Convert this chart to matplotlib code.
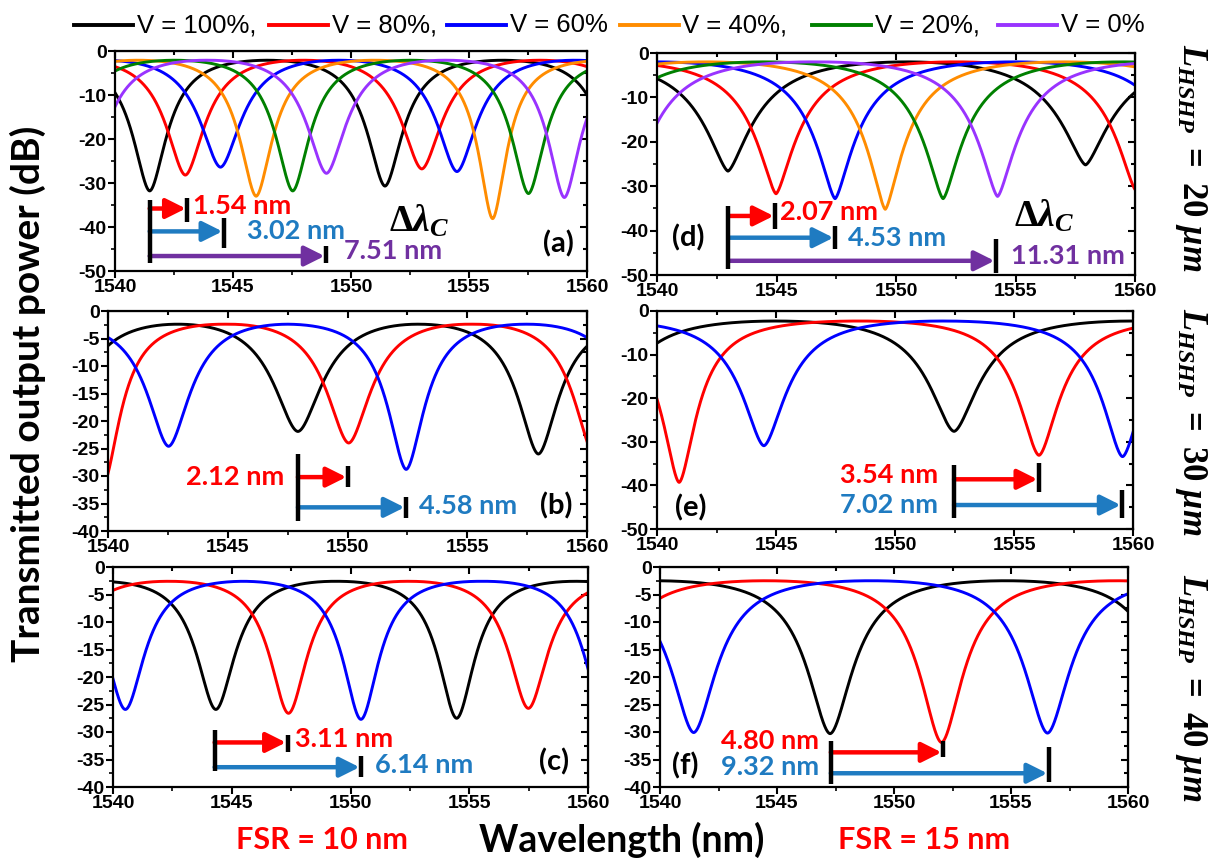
import numpy as np
import matplotlib
matplotlib.use("Agg")
import matplotlib.pyplot as plt
from matplotlib.lines import Line2D
from matplotlib.ticker import MultipleLocator

# ---------------- data ----------------
WL_MIN, WL_MAX = 1540, 1560
series_labels = ["V = 100%,", "V = 80%,", "V = 60%", "V = 40%,", "V = 20%,", "V = 0%"]
series_colors = ["#000000", "#FF0000", "#0000FF", "#FF8C00", "#008000", "#9933FF"]

# resonance dips: (wavelength nm, minimum dB)
a_black = [(1531.45, -31.0), (1541.47, -31.8), (1551.44, -30.7), (1561.42, -30.5)]
a_red = [(1532.98, -28.0), (1542.98, -28.2), (1553.00, -26.8), (1563.00, -27.0)]
a_blue = [(1534.47, -27.0), (1544.47, -26.4), (1554.49, -27.4), (1564.50, -27.0)]
a_orange = [(1535.98, -33.0), (1545.98, -33.0), (1556.00, -38.1), (1566.00, -35.0)]
a_green = [(1537.53, -32.0), (1547.53, -31.8), (1557.52, -32.4), (1567.50, -32.0)]
a_purple = [(1538.85, -28.0), (1548.96, -27.8), (1559.04, -33.3), (1569.00, -30.0)]

b_black = [(1537.90, -22.0), (1547.93, -21.9), (1557.97, -26.0), (1568.00, -24.0)]
b_red = [(1529.80, -30.0), (1539.80, -31.5), (1550.05, -24.0), (1560.30, -26.0)]
b_blue = [(1532.50, -25.0), (1542.53, -24.6), (1552.45, -28.8), (1562.50, -26.0)]

c_black = [(1534.30, -26.0), (1544.33, -25.9), (1554.47, -27.5), (1564.50, -26.0)]
c_red = [(1537.30, -26.0), (1547.39, -26.6), (1557.49, -25.7), (1567.50, -26.0)]
c_blue = [(1530.50, -26.0), (1540.52, -25.9), (1550.44, -27.7), (1560.65, -26.5)]

d_black = [(1528.00, -26.0), (1542.97, -26.6), (1557.93, -25.2), (1572.90, -26.0)]
d_red = [(1530.00, -31.0), (1544.98, -31.7), (1560.05, -31.0)]
d_blue = [(1532.45, -32.0), (1547.45, -32.8), (1562.45, -32.0)]
d_orange = [(1534.55, -35.0), (1549.55, -35.2), (1564.55, -35.0)]
d_green = [(1537.00, -33.0), (1551.97, -32.8), (1567.00, -33.0)]
d_purple = [(1538.90, -29.0), (1554.25, -32.3), (1569.30, -32.0)]

e_black = [(1537.50, -27.0), (1552.48, -27.6), (1567.50, -27.0)]
e_red = [(1525.90, -33.0), (1540.93, -39.3), (1556.05, -33.1), (1571.10, -33.0)]
e_blue = [(1529.50, -31.0), (1544.49, -30.9), (1559.56, -33.4), (1574.60, -33.0)]

f_black = [(1532.30, -30.0), (1547.27, -30.3), (1562.30, -30.0)]
f_red = [(1537.00, -32.0), (1552.03, -31.9), (1567.00, -32.0)]
f_blue = [(1526.50, -30.0), (1541.44, -30.1), (1556.56, -30.2), (1571.60, -30.0)]

panel_names = ["(a)", "(b)", "(c)", "(d)", "(e)", "(f)"]
panel_fsr = [10, 10, 10, 15, 15, 15]
panel_peak = [-2.1, -2.4, -2.6, -2.0, -2.3, -2.5]
panel_k = [28.0, 26.5, 24.0, 36.0, 35.5, 35.0]
panel_p = [1.8, 1.8, 1.9, 1.5, 1.7, 1.8]
panel_ymin = [-50, -40, -40, -50, -50, -40]
panel_ystep = [10, 5, 5, 10, 10, 5]

shift_a = ["1.54 nm", "3.02 nm", "7.51 nm"]
shift_b = ["2.12 nm", "4.58 nm"]
shift_c = ["3.11 nm", "6.14 nm"]
shift_d = ["2.07 nm", "4.53 nm", "11.31 nm"]
shift_e = ["3.54 nm", "7.02 nm"]
shift_f = ["4.80 nm", "9.32 nm"]
length_labels = ["20", "30", "40"]
fsr_labels = ["FSR = 10 nm", "FSR = 15 nm"]

# ---------------- styling ----------------
plt.rcParams["font.family"] = ["Liberation Sans", "DejaVu Sans"]
plt.rcParams["font.weight"] = "bold"
plt.rcParams["axes.unicode_minus"] = False
plt.rcParams["mathtext.fontset"] = "custom"
plt.rcParams["mathtext.rm"] = "Liberation Serif:bold"
plt.rcParams["mathtext.it"] = "Liberation Serif:italic:bold"
plt.rcParams["mathtext.bf"] = "Liberation Serif:bold"

ANN = ["Lato", "DejaVu Sans"]
C_RED = "#FF0000"
C_BLUE = "#1F7BC1"
C_PURP = "#7030A0"

W, H = 1212, 860
fig = plt.figure(figsize=(W / 100, H / 100), dpi=100)


def rect(l, t, r, b):
    return [l / W, 1 - b / H, (r - l) / W, (b - t) / H]


boxes = [(115, 51, 587, 271), (108, 311, 587, 531), (113, 567, 588, 787),
         (657, 53, 1135, 275), (657, 311, 1133, 529), (660, 567, 1128, 787)]


def spectrum(wl, dips, peak, fsr, k, p):
    y = np.full(wl.shape, float(peak))
    s_half = fsr / np.pi
    for centre, bottom in dips:
        depth = peak - bottom
        w = k / depth
        d = wl - centre
        inside = np.abs(d) <= fsr / 2
        de = s_half * np.abs(np.sin(np.pi * d / fsr))
        core = 1.0 / (1.0 + (de / w) ** p)
        edge = 1.0 / (1.0 + (s_half / w) ** p)
        shape = (core - edge) / (1 - edge)
        y = np.where(inside, y - depth * shape, y)
    return y


panel_series = [
    [a_black, a_red, a_blue, a_orange, a_green, a_purple],
    [b_black, b_red, b_blue],
    [c_black, c_red, c_blue],
    [d_black, d_red, d_blue, d_orange, d_green, d_purple],
    [e_black, e_red, e_blue],
    [f_black, f_red, f_blue],
]

wl = np.linspace(WL_MIN, WL_MAX, 4001)
axes = []
for i in range(6):
    ax = fig.add_axes(rect(*boxes[i]))
    axes.append(ax)
    for j, dips in enumerate(panel_series[i]):
        y = spectrum(wl, dips, panel_peak[i], panel_fsr[i], panel_k[i], panel_p[i])
        ax.plot(wl, y, color=series_colors[j], lw=2.1, zorder=2)
    ax.set_xlim(WL_MIN, WL_MAX)
    ax.set_ylim(panel_ymin[i], 0)
    ax.xaxis.set_major_locator(MultipleLocator(5))
    ax.xaxis.set_minor_locator(MultipleLocator(2.5))
    ax.yaxis.set_major_locator(MultipleLocator(panel_ystep[i]))
    ax.yaxis.set_minor_locator(MultipleLocator(panel_ystep[i] / 2))
    ax.tick_params(which="major", direction="out", length=5, width=1.5, labelsize=14, pad=1)
    ax.tick_params(which="minor", direction="out", length=3, width=1.2)
    for lab in ax.get_xticklabels() + ax.get_yticklabels():
        lab.set_fontweight("bold")
    for sp in ax.spines.values():
        sp.set_linewidth(1.6)
    sx = ax.secondary_xaxis("top")
    sx.xaxis.set_major_locator(MultipleLocator(5))
    sx.xaxis.set_minor_locator(MultipleLocator(2.5))
    sx.tick_params(which="both", direction="in", labeltop=False, length=5, width=1.5)
    sx.tick_params(which="minor", length=3)
    sy = ax.secondary_yaxis("right")
    sy.yaxis.set_major_locator(MultipleLocator(panel_ystep[i]))
    sy.yaxis.set_minor_locator(MultipleLocator(panel_ystep[i] / 2))
    sy.tick_params(which="both", direction="in", labelright=False, length=5, width=1.5)
    sy.tick_params(which="minor", length=3)


def bar(ax, x, y0, y1):
    ax.plot([x, x], [y0, y1], color="black", lw=3.2, solid_capstyle="butt", zorder=4)


def arrow(ax, x0, x1, y, color):
    ax.annotate("", xy=(x1, y), xytext=(x0, y), zorder=3,
                arrowprops=dict(arrowstyle="-|>,head_length=0.8,head_width=0.4",
                                mutation_scale=15, color=color, lw=3.2,
                                shrinkA=0, shrinkB=0))


def label(ax, x, y, s, color, ha="left", size=19.5):
    ax.text(x, y, s, color=color, ha=ha, va="center", fontsize=size,
            family=ANN, fontweight="bold", zorder=5)


def panel_tag(ax, x, y, s):
    ax.text(x, y, s, ha="center", va="center", fontsize=21, family=ANN,
            fontweight="bold", color="black", zorder=5)


DELTA = r"$\Delta\lambda_C$"

# (a)
ax = axes[0]
bar(ax, 1541.47, -33.8, -48.1)
arrow(ax, 1541.47, 1543.0, -35.8, C_RED)
bar(ax, 1543.05, -33.5, -38.9)
label(ax, 1543.3, -35.2, shift_a[0], C_RED)
arrow(ax, 1541.47, 1544.55, -41.0, C_BLUE)
bar(ax, 1544.62, -37.9, -44.8)
label(ax, 1545.6, -40.8, shift_a[1], C_BLUE)
arrow(ax, 1541.47, 1548.88, -46.6, C_PURP)
bar(ax, 1548.95, -44.4, -48.2)
label(ax, 1549.7, -45.4, shift_a[2], C_PURP)
ax.text(1552.9, -38.7, DELTA, ha="center", va="center", fontsize=27)
panel_tag(ax, 1558.8, -43.9, panel_names[0])

# (b)
ax = axes[1]
bar(ax, 1547.93, -26.0, -38.2)
arrow(ax, 1547.93, 1549.95, -30.2, C_RED)
bar(ax, 1550.03, -28.1, -32.0)
label(ax, 1547.36, -30.2, shift_b[0], C_RED, ha="right")
arrow(ax, 1547.93, 1552.38, -35.7, C_BLUE)
bar(ax, 1552.45, -33.9, -37.7)
label(ax, 1552.98, -35.4, shift_b[1], C_BLUE)
panel_tag(ax, 1558.7, -35.4, panel_names[1])

# (c)
ax = axes[2]
bar(ax, 1544.28, -29.7, -37.0)
arrow(ax, 1544.28, 1547.28, -31.9, C_RED)
bar(ax, 1547.35, -30.6, -33.7)
label(ax, 1547.68, -31.3, shift_c[0], C_RED)
arrow(ax, 1544.28, 1550.38, -36.4, C_BLUE)
bar(ax, 1550.45, -34.4, -38.2)
label(ax, 1551.03, -36.0, shift_c[1], C_BLUE)
panel_tag(ax, 1558.57, -35.4, panel_names[2])

# (d)
ax = axes[3]
bar(ax, 1542.99, -34.4, -48.6)
arrow(ax, 1542.99, 1544.88, -36.7, C_RED)
bar(ax, 1544.95, -33.7, -39.7)
label(ax, 1545.14, -35.9, shift_d[0], C_RED)
arrow(ax, 1542.99, 1547.38, -41.6, C_BLUE)
bar(ax, 1547.45, -38.9, -44.2)
label(ax, 1548.0, -41.6, shift_d[1], C_BLUE)
arrow(ax, 1542.99, 1554.12, -46.8, C_PURP)
bar(ax, 1554.2, -41.8, -49.5)
label(ax, 1554.8, -45.7, shift_d[2], C_PURP)
ax.text(1556.2, -36.7, DELTA, ha="center", va="center", fontsize=27)
panel_tag(ax, 1541.3, -41.6, panel_names[3])

# (e)
ax = axes[4]
bar(ax, 1552.48, -35.3, -47.4)
arrow(ax, 1552.48, 1555.98, -38.6, C_RED)
bar(ax, 1556.05, -34.9, -41.4)
label(ax, 1551.8, -37.6, shift_e[0], C_RED, ha="right")
arrow(ax, 1552.48, 1559.48, -44.5, C_BLUE)
bar(ax, 1559.55, -41.0, -47.4)
label(ax, 1551.8, -44.5, shift_e[1], C_BLUE, ha="right")
panel_tag(ax, 1541.4, -45.2, panel_names[4])

# (f)
ax = axes[5]
bar(ax, 1547.3, -31.6, -39.4)
arrow(ax, 1547.3, 1552.03, -33.7, C_RED)
bar(ax, 1552.1, -31.7, -34.6)
label(ax, 1546.78, -31.6, shift_f[0], C_RED, ha="right")
arrow(ax, 1547.3, 1556.55, -37.5, C_BLUE)
bar(ax, 1556.62, -32.8, -39.1)
label(ax, 1546.78, -36.4, shift_f[1], C_BLUE, ha="right")
panel_tag(ax, 1541.1, -36.1, panel_names[5])

# ---------------- legend (manual, top row) ----------------
leg_line_x = [74, 268.6, 447, 619.5, 812, 998]
leg_y = 1 - 25 / H
for x0, lab, col in zip(leg_line_x, series_labels, series_colors):
    fig.add_artist(Line2D([x0 / W, (x0 + 59) / W], [leg_y, leg_y], color=col, lw=2.8))
    fig.text((x0 + 63) / W, leg_y, lab, ha="left", va="center", fontsize=18.5,
             fontweight="normal", family=["Liberation Sans", "DejaVu Sans"])

# ---------------- figure labels ----------------
fig.text(28 / W, 1 - 394 / H, "Transmitted output power (dB)", rotation=90,
         ha="center", va="center", fontsize=28, family=ANN, fontweight="bold")
fig.text(622 / W, 1 - 840 / H, "Wavelength (nm)", ha="center", va="center",
         fontsize=27, family=ANN, fontweight="bold")
fig.text(322 / W, 1 - 840 / H, fsr_labels[0], ha="center", va="center",
         fontsize=22, family=ANN, fontweight="bold", color=C_RED)
fig.text(924 / W, 1 - 840 / H, fsr_labels[1], ha="center", va="center",
         fontsize=22, family=ANN, fontweight="bold", color=C_RED)
for yc, ln in zip([158, 422, 688], length_labels):
    fig.text(1191 / W, 1 - yc / H, r"$L_{HSHP}\ =\ %s\ \mu m$" % ln, rotation=-90,
             ha="center", va="center", fontsize=25)

fig.savefig("out.png", dpi=100)
